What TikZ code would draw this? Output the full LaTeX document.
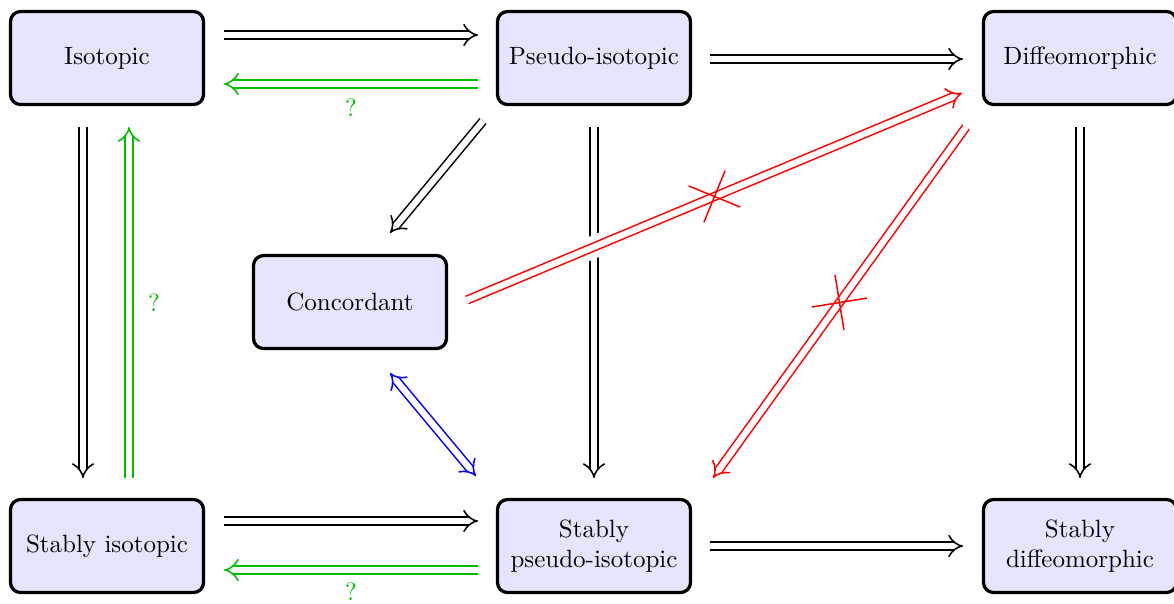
\documentclass[tikz,border=0pt]{standalone}
\usetikzlibrary{arrows.meta,calc,shapes.misc}
\definecolor{qgreen}{RGB}{0,190,0}
\begin{document}
\begin{tikzpicture}[x=0.4pt,y=-0.4pt,
  box/.style={draw, line width=1.3pt, rounded corners=4pt, fill=blue!10,
    minimum width=77.2pt, minimum height=37.2pt, align=center, inner sep=2pt},
  imp/.style={double, double distance=2.5pt, line width=0.62pt, -{Implies}},
  bimp/.style={double, double distance=2.5pt, line width=0.62pt, {Implies}-{Implies}},
  over/.style={preaction={draw=white, -, line width=9pt}},
  crossmark/.style={cross out, draw=red, line width=0.6pt, minimum size=15.2pt, inner sep=0pt, sloped},
  qlabel/.style={text=qgreen}]
\useasboundingbox (0,0) rectangle (1174,603);
\node[box] (iso)  at (107,58)   {Isotopic};
\node[box] (pi)   at (594,58)   {Pseudo-isotopic};
\node[box] (dif)  at (1080,58)  {Diffeomorphic};
\node[box] (con)  at (350,302)  {Concordant};
\node[box] (siso) at (107,546)  {Stably isotopic};
\node[box] (spi)  at (594,546)  {Stably\\pseudo-isotopic};
\node[box] (sdif) at (1080,546) {Stably\\diffeomorphic};
% top row
\draw[imp] ($(iso)+(117,-23)$) -- ($(pi)+(-116,-23)$);
\draw[imp, qgreen] ($(pi)+(-116,26)$) -- node[midway, below, yshift=-2.5pt, qlabel]{?} ($(iso)+(117,26)$);
\draw[imp] ($(pi)+(116,1)$) -- ($(dif)+(-117,1)$);
% left column
\draw[imp] ($(iso)+(-24,69)$) -- ($(siso)+(-24,-68)$);
\draw[imp, qgreen] ($(siso)+(22,-68)$) -- node[midway, right, xshift=4pt, qlabel]{?} ($(iso)+(22,69)$);
% middle
\draw[imp] ($(pi)+(-111,63)$) -- ($(con)+(40,-69)$);
\draw[imp] ($(pi)+(0,69)$) -- ($(spi)+(0,-68)$);
\draw[bimp, blue] ($(con)+(40,71)$) -- ($(spi)+(-118,-70)$);
% right column
\draw[imp] ($(dif)+(0,69)$) -- ($(sdif)+(0,-68)$);
% red crossed
\draw[imp, red, over] ($(con)+(117,-2)$) coordinate (r1a) -- ($(dif)+(-118,35)$) coordinate (r1b);
\path (r1a) -- node[crossmark, midway]{} (r1b);
\draw[imp, red, over] ($(dif)+(-114,69)$) coordinate (r2a) -- ($(spi)+(119,-68)$) coordinate (r2b);
\path (r2a) -- node[crossmark, midway]{} (r2b);
% bottom row
\draw[imp] ($(siso)+(117,-25)$) -- ($(spi)+(-116,-25)$);
\draw[imp, qgreen] ($(spi)+(-116,24)$) -- node[midway, below, yshift=-1.5pt, qlabel]{?} ($(siso)+(117,24)$);
\draw[imp] ($(spi)+(116,0)$) -- ($(sdif)+(-117,0)$);
\end{tikzpicture}
\end{document}
